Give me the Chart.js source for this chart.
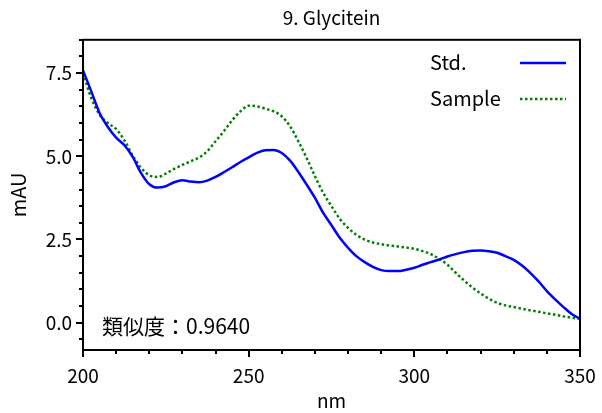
<!DOCTYPE html>
<html>
<head>
<meta charset="utf-8">
<script src="https://cdn.jsdelivr.net/npm/chart.js@4/dist/chart.umd.min.js"></script>
<style>
  html, body { margin: 0; padding: 0; background: #fff; }
  #wrap { width: 602px; height: 413px; }
</style>
</head>
<body>
<div id="wrap"><canvas id="myChart" width="602" height="413"></canvas></div>
<script>
// wavelength grid (nm) and absorbance (mAU) for both spectra
const wavelengths = [
  200, 202.5, 205, 207.5, 210, 212.5, 215, 217.5, 220, 222.5,
  225, 227.5, 230, 232.5, 235, 237.5, 240, 242.5, 245, 247.5,
  250, 252.5, 255, 257.5, 260, 262.5, 265, 267.5, 270, 272.5,
  275, 277.5, 280, 282.5, 285, 287.5, 290, 292.5, 295, 297.5,
  300, 302.5, 305, 307.5, 310, 312.5, 315, 317.5, 320, 322.5,
  325, 327.5, 330, 332.5, 335, 337.5, 340, 342.5, 345, 347.5, 350,
];
const stdValues = [
  7.58, 6.95, 6.3, 5.88, 5.56, 5.33, 4.98, 4.5, 4.16, 4.06,
  4.1, 4.22, 4.28, 4.24, 4.22, 4.27, 4.38, 4.52, 4.67, 4.83,
  4.97, 5.1, 5.18, 5.19, 5.1, 4.87, 4.53, 4.15, 3.75, 3.3,
  2.93, 2.55, 2.25, 2.0, 1.82, 1.68, 1.58, 1.55, 1.55, 1.59,
  1.65, 1.74, 1.82, 1.9, 1.99, 2.06, 2.12, 2.16, 2.17, 2.15,
  2.1, 2.0, 1.89, 1.72, 1.5, 1.24, 0.95, 0.7, 0.47, 0.26, 0.12,
];
const sampleValues = [
  7.5, 6.75, 6.25, 6.0, 5.82, 5.48, 5.02, 4.66, 4.43, 4.38,
  4.48, 4.62, 4.74, 4.85, 4.96, 5.15, 5.45, 5.75, 6.08, 6.35,
  6.52, 6.5, 6.43, 6.35, 6.2, 5.9, 5.45, 4.95, 4.4, 3.9,
  3.5, 3.12, 2.85, 2.64, 2.5, 2.41, 2.36, 2.32, 2.29, 2.26,
  2.22, 2.15, 2.06, 1.92, 1.74, 1.5, 1.27, 1.06, 0.88, 0.72,
  0.6, 0.52, 0.47, 0.42, 0.37, 0.33, 0.28, 0.24, 0.19, 0.15, 0.11,
];
const xTicks = [200, 250, 300, 350];
const yTicks = [0, 2.5, 5, 7.5];
const similarityText = "類似度：0.9640";

const FONT = "'Noto Sans CJK JP', 'Liberation Sans', sans-serif";

function toPoints(values) {
  return wavelengths.map((x, i) => ({ x: x, y: values[i] }));
}

// frame, tick marks (major + minor), legend and similarity note
const decorations = {
  id: "decorations",
  afterDraw(chart) {
    const ctx = chart.ctx;
    const area = chart.chartArea;
    const xs = chart.scales.x;
    const ys = chart.scales.y;
    ctx.save();
    ctx.strokeStyle = "#000";
    ctx.lineWidth = 2;
    ctx.strokeRect(area.left, area.top, area.right - area.left, area.bottom - area.top);

    ctx.beginPath();
    for (let v = 200; v <= 350; v += 10) {
      const px = Math.round(xs.getPixelForValue(v));
      const len = v % 50 === 0 ? 7 : 4;
      ctx.moveTo(px, area.bottom);
      ctx.lineTo(px, area.bottom + len);
    }
    for (let i = -1; i <= 17; i++) {
      const v = i * 0.5;
      if (v < ys.min || v > ys.max) continue;
      const py = Math.round(ys.getPixelForValue(v));
      const len = i % 5 === 0 ? 7 : 4;
      ctx.moveTo(area.left, py);
      ctx.lineTo(area.left - len, py);
    }
    ctx.stroke();

    // legend: label then line sample
    ctx.font = "20px " + FONT;
    ctx.fillStyle = "#000";
    ctx.textBaseline = "middle";
    ctx.textAlign = "left";
    chart.data.datasets.forEach((ds, i) => {
      const y = 62 + i * 36;
      ctx.fillText(ds.label, 430, y);
      ctx.beginPath();
      ctx.strokeStyle = ds.borderColor;
      ctx.lineWidth = ds.borderWidth;
      ctx.setLineDash(ds.borderDash || []);
      ctx.moveTo(520, y + 1);
      ctx.lineTo(566, y + 1);
      ctx.stroke();
    });
    ctx.setLineDash([]);

    ctx.font = "21px " + FONT;
    ctx.fillStyle = "#000";
    ctx.fillText(similarityText, 102, 326);
    ctx.restore();
  },
};

const ctx = document.getElementById("myChart").getContext("2d");
const myChart = new Chart(ctx, {
  type: "line",
  data: {
    datasets: [
      {
        label: "Std.",
        data: toPoints(stdValues),
        borderColor: "#0000ff",
        borderWidth: 2.5,
        pointRadius: 0,
        cubicInterpolationMode: "monotone",
      },
      {
        label: "Sample",
        data: toPoints(sampleValues),
        borderColor: "#008000",
        borderWidth: 2.5,
        borderDash: [2.5, 2.5],
        pointRadius: 0,
        cubicInterpolationMode: "monotone",
      },
    ],
  },
  options: {
    responsive: false,
    animation: false,
    layout: { padding: { left: 0, right: 22, top: 0, bottom: 0 } },
    plugins: {
      legend: { display: false },
      tooltip: { enabled: false },
      title: {
        display: true,
        text: "9. Glycitein",
        color: "#000",
        fullSize: false,
        font: { family: FONT, size: 19, weight: "normal" },
        padding: { top: 6, bottom: 11 },
      },
    },
    scales: {
      x: {
        type: "linear",
        min: 200,
        max: 350,
        afterBuildTicks: (s) => { s.ticks = xTicks.map((v) => ({ value: v })); },
        afterFit: (s) => {
          s.height = 63;
          s.paddingLeft = 0;
          s.paddingRight = 0;
        },
        grid: { display: false, drawTicks: false },
        border: { display: false },
        ticks: { color: "#000", font: { family: FONT, size: 19 }, padding: 14, maxRotation: 0 },
        title: {
          display: true,
          text: "nm",
          color: "#000",
          font: { family: FONT, size: 19 },
          padding: { top: 0, bottom: 1 },
        },
      },
      y: {
        min: -0.82,
        max: 8.5,
        afterBuildTicks: (s) => { s.ticks = yTicks.map((v) => ({ value: v })); },
        afterFit: (s) => { s.width = 83; },
        grid: { display: false, drawTicks: false },
        border: { display: false },
        ticks: {
          color: "#000",
          font: { family: FONT, size: 19 },
          padding: 11,
          callback: (v) => Number(v).toFixed(1),
        },
        title: {
          display: true,
          text: "mAU",
          color: "#000",
          font: { family: FONT, size: 20 },
          padding: { top: 6, bottom: 0 },
        },
      },
    },
  },
  plugins: [decorations],
});
</script>
</body>
</html>
